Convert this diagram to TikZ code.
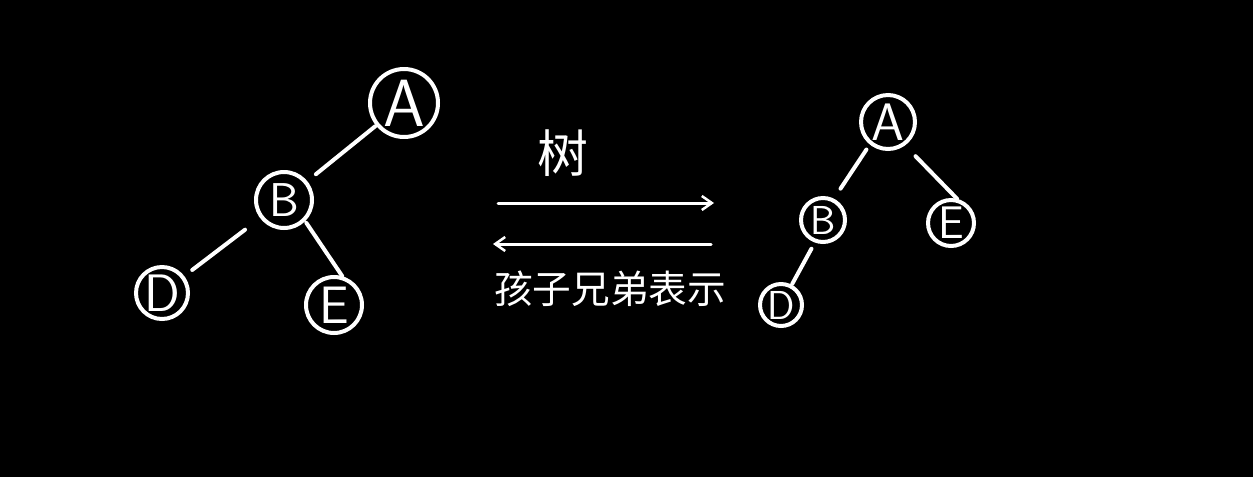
\documentclass[tikz,border=0pt]{standalone}
\usepackage{fontspec}
\newfontfamily\cjk{Noto Sans CJK SC}
\usetikzlibrary{arrows.meta}

\begin{document}
\begin{tikzpicture}[
    x=0.02cm, y=-0.02cm,
    treenode/.style={circle, draw=white, line width=0.08cm, inner sep=0pt, text=white, font=\sffamily},
    treeline/.style={draw=white, line width=0.08cm, line cap=round},
    arrow/.style={-{Straight Barb[length=0.2cm, width=0.28cm, line width=0.05cm]}, draw=white, line width=0.06cm, line cap=round},
    cjktext/.style={text=white, font=\cjk},
]
\fill[black] (0,0) rectangle (1253,477);
\useasboundingbox (0,0) rectangle (1253,477);

% tree
\node[treenode, minimum size=1.36cm, font=\sffamily\fontsize{38}{40}\selectfont] (la) at (404,103) {A};
\node[treenode, minimum size=1.12cm, font=\sffamily\fontsize{27}{29}\selectfont] (lb) at (284,200) {B};
\node[treenode, minimum size=1.04cm, font=\sffamily\fontsize{30}{32}\selectfont] (ld) at (162,293) {D};
\node[treenode, minimum size=1.12cm, font=\sffamily\fontsize{30}{32}\selectfont] (le) at (334,305) {E};

\draw[treeline, shorten <=0.02cm, shorten >=0.22cm] (la) -- (lb);
\draw[treeline, shorten <=0.38cm, shorten >=0.2cm] (lb) -- (ld);
\draw[treeline, shorten <=0.04cm] (lb.-45) -- (le.74);

% arrows and labels
\node[cjktext, font=\cjk\fontsize{29}{31}\selectfont] (shu) at (563,153) {树};
\coordinate (r1) at (498,203);
\coordinate (r2) at (714,203);
\coordinate (l1) at (711,244);
\coordinate (l2) at (493,244);
\draw[arrow] (r1) -- (r2);
\draw[arrow] (l1) -- (l2);
\node[cjktext, font=\cjk\fontsize{22}{24}\selectfont] (rep) at (610,289) {孩子兄弟表示};

% binary tree
\node[treenode, minimum size=1.08cm, font=\sffamily\fontsize{30}{32}\selectfont] (ra) at (888,122) {A};
\node[treenode, minimum size=0.88cm, font=\sffamily\fontsize{23}{25}\selectfont] (rb) at (823,220) {B};
\node[treenode, minimum size=0.92cm, font=\sffamily\fontsize{26}{28}\selectfont] (re) at (951,223) {E};
\node[treenode, minimum size=0.84cm, font=\sffamily\fontsize{23}{25}\selectfont] (rd) at (781,305) {D};

\draw[treeline, shorten <=0.12cm, shorten >=0.24cm] (ra.-129) -- (rb.63);
\draw[treeline, shorten <=0.3cm] (ra.-54) -- (re.76);
\draw[treeline, shorten <=0.14cm, shorten >=0.02cm] (rb.-110) -- (rd.62);
\end{tikzpicture}
\end{document}
